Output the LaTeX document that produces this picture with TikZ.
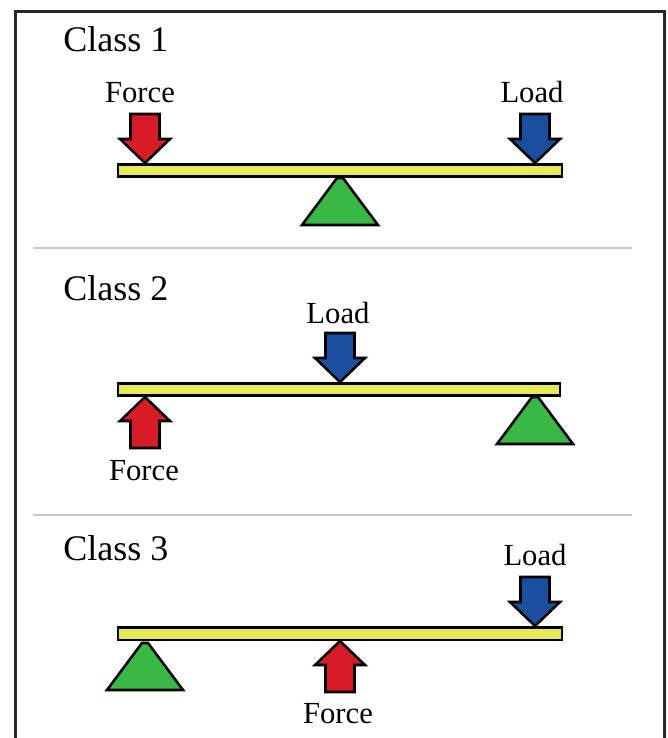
\documentclass[tikz,border=0pt]{standalone}
\usepackage{fontspec}
\setmainfont{Liberation Serif}
\definecolor{beamyellow}{RGB}{232,232,88}
\definecolor{forcered}{RGB}{214,28,38}
\definecolor{loadblue}{RGB}{28,78,158}
\definecolor{pivotgreen}{RGB}{58,184,70}
\definecolor{framegray}{RGB}{38,38,38}
\definecolor{rulegray}{RGB}{200,200,200}
\tikzset{
  classlbl/.style={font=\fontsize{27}{30}\selectfont, anchor=base west, inner sep=0pt},
  lbl/.style={font=\fontsize{23}{26}\selectfont, anchor=base, inner sep=0pt},
  shapeline/.style={draw=black, line width=1.9pt, line join=miter},
  beam/.style={shapeline, fill=beamyellow},
  forcefill/.style={shapeline, fill=forcered},
  loadfill/.style={shapeline, fill=loadblue},
  pivot/.style={shapeline, fill=pivotgreen},
  divider/.style={draw=rulegray, line width=1.5pt},
  downarrow/.pic={
    \path[pic actions] (0,0) -- (25,-24) -- (14.5,-24) -- (14.5,-49)
      -- (-14.5,-49) -- (-14.5,-24) -- (-25,-24) -- cycle;
  },
  uparrow/.pic={
    \path[pic actions] (0,0) -- (25,24) -- (14.5,24) -- (14.5,51)
      -- (-14.5,51) -- (-14.5,24) -- (-25,24) -- cycle;
  },
  fulcrum/.pic={
    \path[pic actions] (-3,0) -- (3,0) -- (38,47) -- (-38,47) -- cycle;
  }
}
\begin{document}
\begin{tikzpicture}[x=0.75pt,y=-0.75pt]
\useasboundingbox (0,0) rectangle (667,738);
% frame (open at the bottom)
\draw[framegray, line width=2.4pt] (15.5,738) -- (15.5,11.5) -- (664.5,11.5) -- (664.5,738);
% dividers
\draw[divider] (33,248) -- (632,248);
\draw[divider] (33,515) -- (632,515);

% ---------- Class 1 ----------
\node[classlbl] (c1) at (63,52) {Class 1};
\coordinate (b1l) at (118,164.5);
\coordinate (b1r) at (562,176.5);
\draw[beam] (b1l) rectangle (b1r);
\pic[forcefill] at (145,163) {downarrow};
\pic[loadfill] at (535,163) {downarrow};
\pic[pivot] at (340,178) {fulcrum};
\node[lbl] (f1) at (140,103) {Force};
\node[lbl] (l1) at (532,103) {Load};

% ---------- Class 2 ----------
\node[classlbl] (c2) at (63,300) {Class 2};
\coordinate (b2l) at (118,383.5);
\coordinate (b2r) at (560,395.5);
\draw[beam] (b2l) rectangle (b2r);
\pic[loadfill] at (340,382) {downarrow};
\pic[forcefill] at (145,397) {uparrow};
\pic[pivot] at (535,397) {fulcrum};
\node[lbl] (l2) at (338,323) {Load};
\node[lbl] (f2) at (144,480) {Force};

% ---------- Class 3 ----------
\node[classlbl] (c3) at (63,560) {Class 3};
\coordinate (b3l) at (118,627.5);
\coordinate (b3r) at (562,640);
\draw[beam] (b3l) rectangle (b3r);
\pic[loadfill] at (535,626) {downarrow};
\pic[forcefill] at (340,641) {uparrow};
\pic[pivot] at (145,643) {fulcrum};
\node[lbl] (l3) at (535,565) {Load};
\node[lbl] (f3) at (338,723) {Force};
\end{tikzpicture}
\end{document}
